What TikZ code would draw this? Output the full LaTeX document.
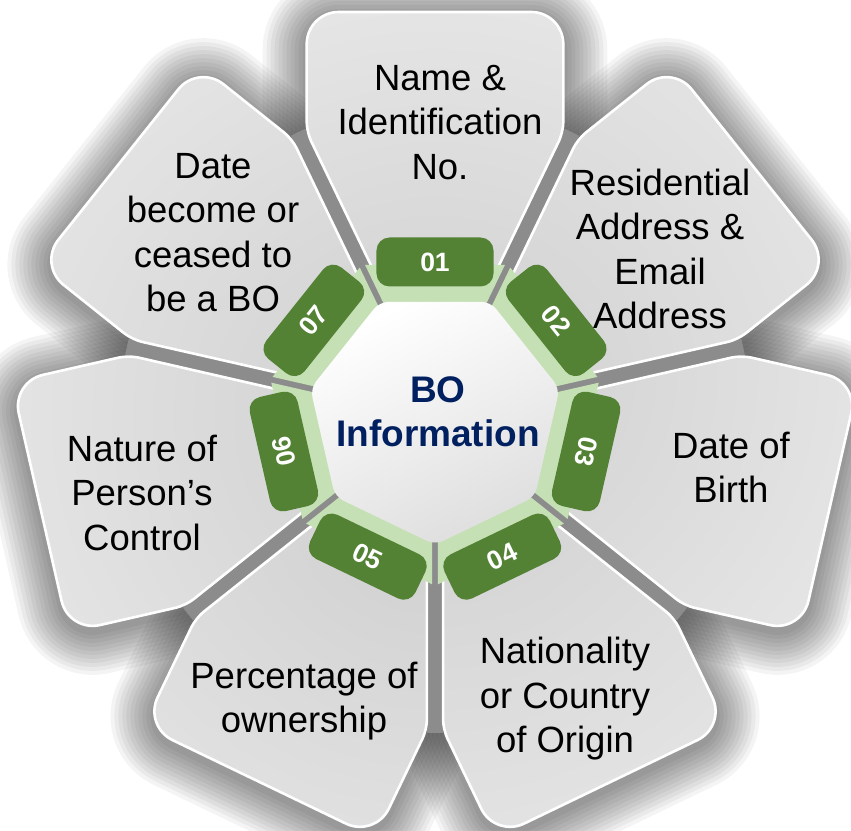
\documentclass[tikz,border=0pt]{standalone}
\usepackage{fontspec}
\setmainfont{Liberation Sans}
\definecolor{tabgreen}{RGB}{84,130,53}
\definecolor{bandgreen}{RGB}{197,224,180}
\definecolor{navy}{RGB}{0,32,96}
\definecolor{gapgray}{RGB}{140,140,140}
\def\petalpath{(19,0) [rounded corners=10pt]-- (285,-128.3) [rounded corners=32pt]-- (405,-128.3) -- (405,128.3) [rounded corners=10pt]-- (285,128.3) -- cycle}
\begin{document}
\begin{tikzpicture}[x=1pt,y=1pt,
  petaltext/.style={font=\fontsize{36.5}{44.5}\selectfont, align=center, text=black, inner sep=0pt},
  tabnode/.style={fill=tabgreen, rounded corners=13pt, minimum width=117pt, minimum height=49pt, text=white, font=\fontsize{26.5}{30}\bfseries\selectfont, inner sep=0pt},
  centertext/.style={font=\fontsize{37}{44.5}\bfseries\selectfont, text=navy, align=center, inner sep=0pt},
  gapline/.style={line width=16pt, gapgray}]
\useasboundingbox (-435,-413) rectangle (416,417);
\fill[white] (-435,-413) rectangle (416,417);
% soft shadows
\begin{scope}[shift={(0,-5)}]
\foreach \a in {90,38.571,-12.857,-64.286,-115.714,192.857,141.429}{
  \begin{scope}[rotate=\a]
   \foreach \lw in {88,80,72,64,56,48,40,32,24,16,8}
     \draw[line width=\lw pt, black, opacity=0.045, line join=round] \petalpath;
  \end{scope}}
\end{scope}
% gaps between petals
\foreach \v in {64.286,12.857,-38.571,-90,-141.429,167.143,115.714}{
  \draw[gapline] (\v:100) -- (\v:316);}
% petals
\foreach \a in {90,38.571,-12.857,-64.286,-115.714,192.857,141.429}{
  \begin{scope}[rotate=\a]
   \begin{scope}
    \clip \petalpath;
    \shade[inner color=black!19, outer color=black!2] (0,0) circle (800);
   \end{scope}
   \draw[white, line width=2.6pt, line join=round] \petalpath;
  \end{scope}}
% light green band
\foreach \a in {90,38.571,-12.857,-64.286,-115.714,192.857,141.429}{
  \fill[bandgreen, rotate=\a] (108,-48.7) -- (152,-69.9) -- (152,69.9) -- (108,48.7) -- cycle;}
% centre heptagon
\shade[top color=white, bottom color=black!13, shading angle=25, rounded corners=9pt]
  (-90:127.8) -- (-38.571:127.8) -- (12.857:127.8) -- (64.286:127.8) -- (115.714:127.8) -- (167.143:127.8) -- (218.571:127.8) -- cycle;
% tabs
\node[tabnode, rotate=0] (n1) at (90:155) {01};
\node[tabnode, rotate=-51.43] (n2) at (38.571:155) {02};
\node[tabnode, rotate=-102.86] (n3) at (-12.857:155) {03};
\node[tabnode, rotate=25.71] (n4) at (-64.286:155) {04};
\node[tabnode, rotate=-25.71] (n5) at (-115.714:155) {05};
\node[tabnode, rotate=102.86] (n6) at (192.857:155) {06};
\node[tabnode, rotate=51.43] (n7) at (141.429:155) {07};
% centre text
\node[centertext] (c) at (3,5) {BO\\Information};
% petal texts
\node[petaltext] (t1) at (5,294.5) {Name \&\\Identification\\No.};
\node[petaltext] (t2) at (225,168) {Residential\\Address \&\\Email\\Address};
\node[petaltext] (t3) at (296,-50.5) {Date of\\Birth};
\node[petaltext] (t4) at (130,-282) {Nationality\\or Country\\of Origin};
\node[petaltext] (t5) at (-131,-284) {Percentage of\\ownership};
\node[petaltext] (t6) at (-293,-75.5) {Nature of\\Person’s\\Control};
\node[petaltext] (t7) at (-222,184.5) {Date\\become or\\ceased to\\be a BO};
\end{tikzpicture}
\end{document}
